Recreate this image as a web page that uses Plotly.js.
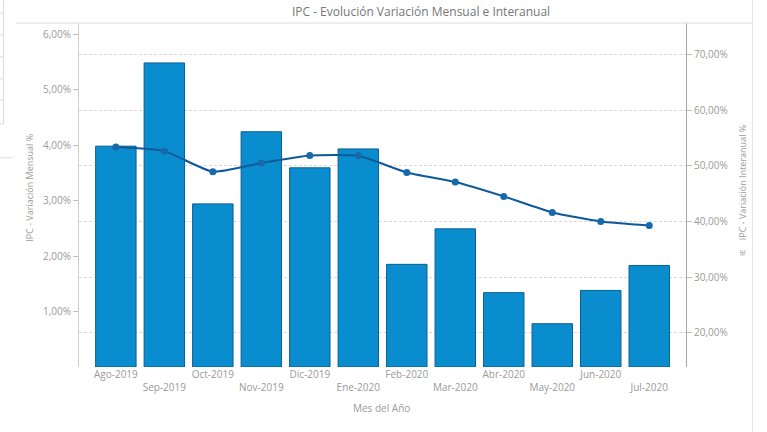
<!DOCTYPE html>
<html>
<head>
<meta charset="utf-8">
<script src="https://cdn.plot.ly/plotly-3.0.1.min.js"></script>
<style>html,body{margin:0;padding:0;background:#fff;}#chart{width:767px;height:432px;}</style>
</head>
<body>
<div id="chart"></div>
<script>
// ---- data ----
var categories = ['Ago-2019','Sep-2019','Oct-2019','Nov-2019','Dic-2019','Ene-2020','Feb-2020','Mar-2020','Abr-2020','May-2020','Jun-2020','Jul-2020'];
var mensual = [3.98, 5.48, 2.94, 4.24, 3.59, 3.93, 1.85, 2.49, 1.34, 0.78, 1.38, 1.83];
var interanual = [53.38, 52.66, 48.95, 50.51, 51.87, 51.82, 48.82, 47.10, 44.52, 41.64, 40.03, 39.31];
var leftTicks = [1, 2, 3, 4, 5, 6];
var rightTicks = [20, 30, 40, 50, 60, 70];
var chartTitle = 'IPC - Evolución Variación Mensual e Interanual';
var xTitle = 'Mes del Año';
var yTitle = 'IPC - Variación Mensual %';
var y2Title = 'IPC - Variación Interanual %';

// ---- layout geometry ----
var W = 767, H = 432;
var mL = 79, mR = 80.5, mT = 23, mB = 64.5;
var pw = W - mL - mR, ph = H - mT - mB;
function px(x){ return (x - mL) / pw; }
function py(y){ return (H - mB - y) / ph; }
function fmt(v){ return v.toFixed(2).replace('.', ',') + '%'; }

var tickFont = {family: 'Open Sans, sans-serif', size: 10, color: '#9a9a9a'};
var staggered = categories.map(function(c, i){ return i % 2 ? '<br>' + c : c; });
var rightRange = [13.86, 75.69];

var traces = [
  // empty trace on the base axis so its grid is drawn beneath everything
  {type: 'scatter', mode: 'markers', x: categories, y: categories.map(function(){ return null; }), yaxis: 'y', hoverinfo: 'skip', showlegend: false},
  {
    type: 'bar', x: categories, y: mensual, yaxis: 'y2', name: 'Mensual',
    marker: {color: '#0a8dce', line: {color: '#0b5e93', width: 1}},
    hoverinfo: 'x+y'
  },
  {
    type: 'scatter', mode: 'lines+markers', x: categories, y: interanual, yaxis: 'y3', name: 'Interanual',
    line: {color: '#0d5a9a', width: 2, shape: 'spline', smoothing: 0.5},
    marker: {color: '#1769ab', size: 7},
    hoverinfo: 'x+y'
  }
];

var lineColor = '#dcdcdc';
var shapes = [
  {type: 'line', xref: 'paper', yref: 'paper', x0: px(16), x1: px(753), y0: py(23), y1: py(23), line: {color: lineColor, width: 1}},
  {type: 'line', xref: 'paper', yref: 'paper', x0: px(753), x1: px(753), y0: py(0), y1: py(432), line: {color: '#e4e4e4', width: 1}},
  {type: 'line', xref: 'paper', yref: 'paper', x0: px(3.5), x1: px(3.5), y0: py(0), y1: py(124), line: {color: lineColor, width: 1}},
  {type: 'line', xref: 'paper', yref: 'paper', x0: px(0), x1: px(3.5), y0: py(124), y1: py(124), line: {color: lineColor, width: 1}},
  {type: 'line', xref: 'paper', yref: 'paper', x0: px(0), x1: px(13), y0: py(158), y1: py(158), line: {color: lineColor, width: 1}}
];
[13, 35, 57, 79, 100].forEach(function(y){
  shapes.push({type: 'line', xref: 'paper', yref: 'paper', x0: px(0), x1: px(3.5), y0: py(y), y1: py(y), line: {color: lineColor, width: 1}});
});

var layout = {
  width: W, height: H,
  margin: {l: mL, r: mR, t: mT, b: mB, pad: 0},
  paper_bgcolor: '#ffffff', plot_bgcolor: '#ffffff',
  showlegend: false,
  bargap: 0.166,
  title: {text: chartTitle, xref: 'container', yref: 'container', x: 421 / W, xanchor: 'center', y: 1 - 12 / H, yanchor: 'middle',
          font: {family: 'Open Sans, sans-serif', size: 12, color: '#767676'}},
  xaxis: {
    type: 'category', range: [-0.76, 11.758],
    tickvals: categories, ticktext: staggered, tickangle: 0,
    showgrid: false, zeroline: false, showline: false, ticks: '',
    tickfont: tickFont, fixedrange: true
  },
  // base axis: only the dashed grid (same scale as the right axis), drawn beneath all traces
  yaxis: {
    range: rightRange, tickvals: rightTicks, side: 'right',
    showticklabels: false, ticks: '', showline: false, zeroline: false,
    showgrid: true, gridcolor: '#d9d9d9', griddash: '3px,2px', gridwidth: 1, fixedrange: true
  },
  yaxis2: {
    overlaying: 'y', side: 'left',
    range: [0, 6.2], tickvals: leftTicks, ticktext: leftTicks.map(fmt),
    showgrid: false, zeroline: false, showline: true, linecolor: '#cfcfcf', linewidth: 1,
    ticks: 'outside', ticklen: 5, tickcolor: '#bdbdbd', tickfont: tickFont, fixedrange: true
  },
  yaxis3: {
    overlaying: 'y', side: 'right',
    range: rightRange, tickvals: rightTicks, ticktext: rightTicks.map(fmt),
    showgrid: false, zeroline: false, showline: true, linecolor: '#a8a8a8', linewidth: 1,
    ticks: 'outside', ticklen: 5, tickcolor: '#bdbdbd', tickfont: tickFont, fixedrange: true
  },
  annotations: [
    {text: xTitle, xref: 'paper', yref: 'paper', x: px(382), y: py(409), xanchor: 'center', yanchor: 'middle', showarrow: false,
     font: {family: 'Open Sans, sans-serif', size: 10, color: '#9a9a9a'}},
    {text: yTitle, xref: 'paper', yref: 'paper', x: px(30), y: py(188), xanchor: 'center', yanchor: 'middle', textangle: -90, showarrow: false,
     font: {family: 'Open Sans, sans-serif', size: 9, color: '#9a9a9a'}},
    {text: y2Title, xref: 'paper', yref: 'paper', x: px(743), y: py(183), xanchor: 'center', yanchor: 'middle', textangle: -90, showarrow: false,
     font: {family: 'Open Sans, sans-serif', size: 9, color: '#9a9a9a'}},
    {text: 'IE', xref: 'paper', yref: 'paper', x: px(742), y: py(253), xanchor: 'center', yanchor: 'middle', textangle: -90, showarrow: false,
     font: {family: 'Open Sans, sans-serif', size: 8, color: '#9a9a9a'}}
  ],
  shapes: shapes
};

Plotly.newPlot('chart', traces, layout, {displayModeBar: false, staticPlot: true});
</script>
</body>
</html>
